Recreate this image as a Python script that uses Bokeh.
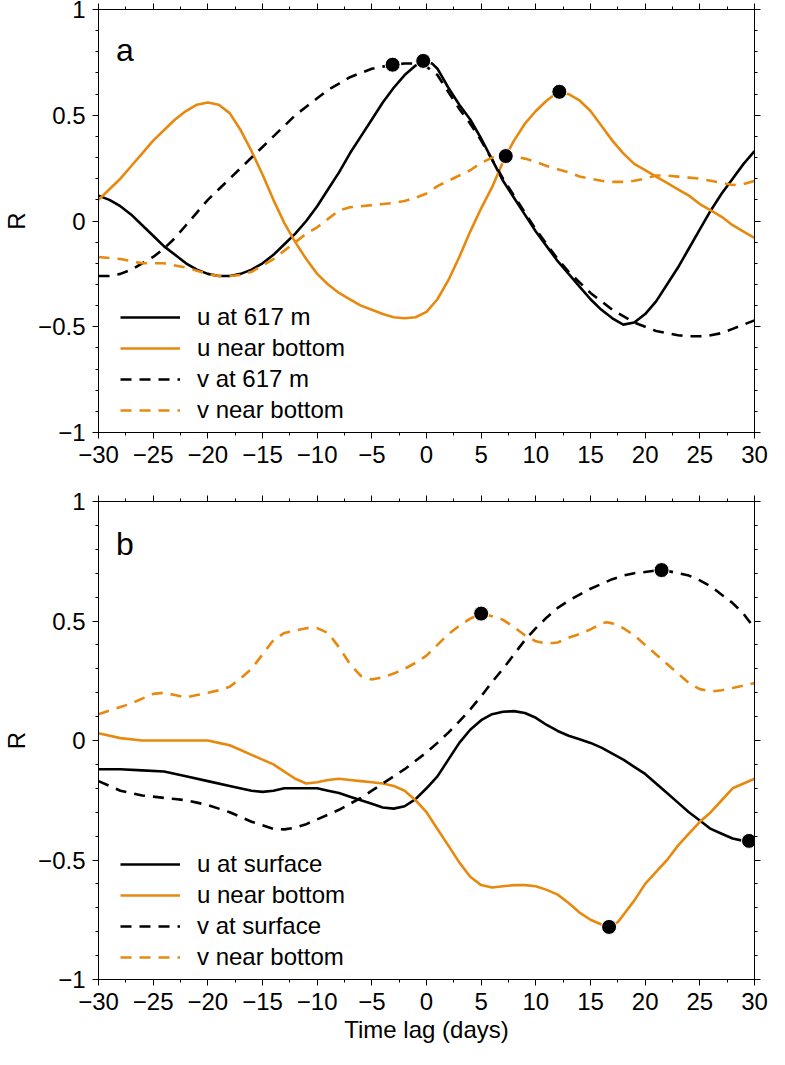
from bokeh.plotting import figure
from bokeh.models import (Range1d, LinearAxis, SingleIntervalTicker, CustomJSTickFormatter,
                          Legend, LegendItem, Label)
from bokeh.layouts import column
from bokeh.embed import file_html
from bokeh.resources import INLINE

FONT = "Liberation Sans"
ORANGE = "#E8890F"

# ---------------- Panel a data ----------------
a_u617_x = [-30, -29, -28, -27, -26, -25, -24, -23, -22, -21, -20, -19, -18, -17, -16, -15, -14, -13, -12, -11,
            -10, -9, -8, -7, -6, -5, -4, -3, -2, -1, -0.3, 0.5, 1, 2, 3, 4, 5, 6, 7, 8, 9, 10,
            11, 12, 13, 14, 15, 16, 17, 18, 19, 20, 21, 22, 23, 24, 25, 26, 27, 28, 29, 30]
a_u617_y = [0.12, 0.10, 0.07, 0.03, -0.02, -0.07, -0.12, -0.16, -0.2, -0.23, -0.25, -0.26, -0.26, -0.25, -0.23, -0.2, -0.16, -0.11, -0.06, 0.0,
            0.07, 0.15, 0.23, 0.32, 0.40, 0.48, 0.56, 0.63, 0.69, 0.735, 0.755, 0.745, 0.72, 0.63, 0.55, 0.48, 0.39, 0.29, 0.19, 0.11, 0.03, -0.05,
            -0.12, -0.19, -0.25, -0.31, -0.37, -0.42, -0.46, -0.49, -0.48, -0.44, -0.38, -0.3, -0.22, -0.13, -0.04, 0.05, 0.13, 0.2, 0.27, 0.33]

a_ubot_x = [-30, -29, -28, -27, -26, -25, -24, -23, -22, -21, -20, -19, -18, -17, -16, -15, -14, -13, -12, -11,
            -10, -9, -8, -7, -6, -5, -4, -3, -2, -1, 0, 1, 2, 3, 4, 5, 6, 7, 7.25, 8, 9, 10,
            11, 12, 13, 14, 15, 16, 17, 18, 19, 20, 21, 22, 23, 24, 25, 26, 27, 28, 29, 30]
a_ubot_y = [0.1, 0.15, 0.2, 0.26, 0.32, 0.38, 0.43, 0.48, 0.52, 0.55, 0.56, 0.55, 0.51, 0.43, 0.33, 0.22, 0.1, -0.01, -0.1, -0.18,
            -0.25, -0.3, -0.34, -0.37, -0.4, -0.42, -0.44, -0.455, -0.46, -0.455, -0.43, -0.37, -0.28, -0.17, -0.05, 0.06, 0.16, 0.28, 0.307, 0.38, 0.46, 0.52,
            0.57, 0.608, 0.6, 0.57, 0.52, 0.45, 0.38, 0.32, 0.27, 0.24, 0.21, 0.18, 0.15, 0.12, 0.08, 0.05, 0.02, -0.02, -0.05, -0.08]

a_v617_x = [-30, -29, -28, -27, -26, -25, -24, -23, -22, -21, -20, -19, -18, -17, -16, -15, -14, -13, -12, -11,
            -10, -9, -8, -7, -6, -5, -4, -3, -2, -1, 0, 1, 2, 3, 4, 5, 6, 7, 8, 9, 10,
            11, 12, 13, 14, 15, 16, 17, 18, 19, 20, 21, 22, 23, 24, 25, 26, 27, 28, 29, 30]
a_v617_y = [-0.26, -0.26, -0.25, -0.23, -0.2, -0.17, -0.13, -0.08, -0.02, 0.04, 0.1, 0.15, 0.2, 0.25, 0.3, 0.35, 0.4, 0.45, 0.5, 0.54,
            0.58, 0.62, 0.65, 0.68, 0.7, 0.72, 0.73, 0.739, 0.745, 0.745, 0.73, 0.69, 0.61, 0.53, 0.46, 0.38, 0.29, 0.2, 0.12, 0.04, -0.04,
            -0.11, -0.18, -0.24, -0.29, -0.34, -0.38, -0.42, -0.45, -0.48, -0.5, -0.52, -0.53, -0.54, -0.545, -0.545, -0.54, -0.53, -0.51, -0.49, -0.47]

a_vbot_x = [-30, -29, -28, -27, -26, -25, -24, -23, -22, -21, -20, -19, -18, -17, -16, -15, -14, -13, -12, -11,
            -10, -9, -8, -7, -6, -5, -4, -3, -2, -1, 0, 1, 2, 3, 4, 5, 6, 7, 8, 9, 10,
            11, 12, 13, 14, 15, 16, 17, 18, 19, 20, 21, 22, 23, 24, 25, 26, 27, 28, 29, 30]
a_vbot_y = [-0.17, -0.175, -0.18, -0.19, -0.2, -0.2, -0.2, -0.21, -0.22, -0.235, -0.25, -0.26, -0.26, -0.255, -0.24, -0.21, -0.18, -0.14, -0.1, -0.06,
            -0.03, 0.01, 0.05, 0.065, 0.07, 0.075, 0.08, 0.085, 0.095, 0.11, 0.13, 0.165, 0.19, 0.215, 0.24, 0.275, 0.3, 0.307, 0.305, 0.295, 0.28,
            0.26, 0.245, 0.23, 0.21, 0.2, 0.19, 0.185, 0.185, 0.19, 0.2, 0.215, 0.215, 0.21, 0.205, 0.2, 0.19, 0.18, 0.17, 0.175, 0.19]

a_dot_x = [-3.1, -0.3, 7.25, 12.15]
a_dot_y = [0.739, 0.757, 0.307, 0.611]

# ---------------- Panel b data ----------------
b_usurf_x = [-30, -28, -26, -24, -22, -20, -18, -16, -15, -14, -13, -12, -11, -10, -9, -8, -7, -6, -5, -4, -3, -2, -1,
             0, 1, 2, 3, 4, 5, 6, 7, 8, 9, 10, 11, 12, 13, 14, 15, 16, 17, 18, 19, 20, 21, 22, 23, 24, 25, 26, 27, 28, 29, 30]
b_usurf_y = [-0.12, -0.12, -0.125, -0.13, -0.15, -0.17, -0.19, -0.21, -0.215, -0.21, -0.2, -0.2, -0.2, -0.2, -0.21, -0.22, -0.235, -0.25, -0.265, -0.28, -0.285, -0.275, -0.245,
             -0.2, -0.15, -0.08, -0.01, 0.045, 0.085, 0.11, 0.12, 0.123, 0.115, 0.095, 0.065, 0.04, 0.02, 0.005, -0.01, -0.03, -0.055, -0.08, -0.11, -0.14, -0.18, -0.22, -0.26, -0.3, -0.335, -0.37, -0.39, -0.41, -0.42, -0.42]

b_ubot_x = [-30, -28, -26, -24, -22, -20, -19, -18, -17, -16, -15, -14, -13, -12, -11, -10, -9, -8, -7, -6, -5, -4, -3, -2, -1,
            0, 1, 2, 3, 4, 5, 6, 7, 8, 9, 10, 11, 12, 13, 14, 15, 16, 16.7, 17.5, 18, 19, 20, 21, 22, 23, 24, 25, 26, 27, 28, 29, 30]
b_ubot_y = [0.03, 0.01, 0.0, 0.0, 0.0, 0.0, -0.01, -0.02, -0.04, -0.06, -0.08, -0.1, -0.13, -0.16, -0.18, -0.175, -0.165, -0.16, -0.165, -0.17, -0.175, -0.18, -0.19, -0.21, -0.25,
            -0.3, -0.37, -0.44, -0.51, -0.57, -0.605, -0.615, -0.61, -0.605, -0.605, -0.61, -0.625, -0.645, -0.68, -0.72, -0.75, -0.77, -0.78, -0.76, -0.73, -0.67, -0.6, -0.55, -0.5, -0.44, -0.39, -0.34, -0.3, -0.25, -0.2, -0.18, -0.16]

b_vsurf_x = [-30, -29, -28, -27, -26, -25, -24, -23, -22, -21, -20, -19, -18, -17, -16, -15, -14, -13, -12, -11,
             -10, -9, -8, -7, -6, -5, -4, -3, -2, -1, 0, 1, 2, 3, 4, 5, 6, 7, 8, 9, 10,
             11, 12, 13, 14, 15, 16, 17, 18, 19, 20, 21, 21.5, 22, 23, 24, 25, 26, 27, 28, 29, 30]
b_vsurf_y = [-0.17, -0.19, -0.21, -0.22, -0.23, -0.235, -0.24, -0.245, -0.25, -0.26, -0.27, -0.285, -0.3, -0.32, -0.34, -0.355, -0.37, -0.372, -0.365, -0.35,
             -0.33, -0.31, -0.29, -0.265, -0.24, -0.21, -0.18, -0.15, -0.12, -0.085, -0.05, -0.01, 0.033, 0.08, 0.13, 0.185, 0.245, 0.3, 0.36, 0.42, 0.47,
             0.515, 0.555, 0.585, 0.61, 0.635, 0.655, 0.675, 0.69, 0.7, 0.705, 0.711, 0.713, 0.71, 0.7, 0.69, 0.67, 0.645, 0.61, 0.575, 0.53, 0.47]

b_vbot_x = [-30, -29, -28, -27, -26, -25, -24, -23, -22, -21, -20, -19, -18, -17, -16, -15, -14, -13, -12, -11,
            -10, -9, -8, -7, -6, -5, -4, -3, -2, -1, 0, 1, 2, 3, 4, 5, 6, 7, 8, 9, 10,
            11, 12, 13, 14, 15, 16, 16.5, 17, 18, 19, 20, 21, 22, 23, 24, 25, 26, 27, 28, 29, 30]
b_vbot_y = [0.11, 0.125, 0.14, 0.155, 0.175, 0.195, 0.2, 0.19, 0.18, 0.19, 0.2, 0.21, 0.225, 0.26, 0.3, 0.36, 0.42, 0.45, 0.46, 0.47,
            0.47, 0.45, 0.39, 0.32, 0.27, 0.255, 0.265, 0.28, 0.3, 0.325, 0.355, 0.4, 0.445, 0.48, 0.51, 0.531, 0.52, 0.505, 0.475, 0.44, 0.415,
            0.405, 0.41, 0.43, 0.445, 0.465, 0.49, 0.495, 0.49, 0.47, 0.44, 0.4, 0.36, 0.32, 0.28, 0.24, 0.215, 0.205, 0.21, 0.22, 0.23, 0.24]

b_dot_x = [5.0, 21.5, 16.7, 29.5]
b_dot_y = [0.531, 0.713, -0.78, -0.42]

x_label = "Time lag (days)"
y_label = "R"

MINUS_FMT = "return String(tick).replace('-', '\u2212');"


def make_panel(height, border_top, border_bottom, series, dots, letter, letter_y, show_xlabel):
    p = figure(width=769, height=height, output_backend="svg", toolbar_location=None,
               x_range=Range1d(-30, 30), y_range=Range1d(-1, 1),
               min_border_left=92, min_border_right=15,
               min_border_top=border_top, min_border_bottom=border_bottom)
    p.grid.visible = False
    p.outline_line_color = "black"
    p.outline_line_width = 1
    p.background_fill_color = "white"
    p.border_fill_color = "white"

    def style(ax, show_labels):
        ax.major_tick_in = 0
        ax.minor_tick_in = 0
        ax.major_tick_out = 6
        ax.minor_tick_out = 3
        ax.axis_line_color = "black"
        ax.major_tick_line_color = "black"
        ax.minor_tick_line_color = "black"
        ax.formatter = CustomJSTickFormatter(code=MINUS_FMT)
        if show_labels:
            ax.major_label_text_font = FONT
            ax.major_label_text_font_size = "24px"
            ax.major_label_text_color = "black"
            ax.major_label_standoff = 7
        else:
            ax.major_label_text_font_size = "0px"
            ax.major_label_standoff = 0

    p.xaxis.ticker = SingleIntervalTicker(interval=5, num_minor_ticks=2)
    p.yaxis.ticker = SingleIntervalTicker(interval=0.5, num_minor_ticks=5)
    style(p.xaxis[0], True)
    style(p.yaxis[0], True)
    p.yaxis.axis_label = y_label
    p.yaxis.axis_label_text_font = FONT
    p.yaxis.axis_label_text_font_size = "24px"
    p.yaxis.axis_label_text_font_style = "normal"
    p.yaxis.axis_label_text_color = "black"
    p.yaxis.axis_label_standoff = 5
    if show_xlabel:
        p.xaxis.axis_label = x_label
        p.xaxis.axis_label_text_font = FONT
        p.xaxis.axis_label_text_font_size = "24px"
        p.xaxis.axis_label_text_font_style = "normal"
        p.xaxis.axis_label_text_color = "black"
        p.xaxis.axis_label_standoff = 3

    top = LinearAxis(ticker=SingleIntervalTicker(interval=5, num_minor_ticks=2))
    style(top, False)
    p.add_layout(top, "above")
    right = LinearAxis(ticker=SingleIntervalTicker(interval=0.5, num_minor_ticks=5))
    style(right, False)
    p.add_layout(right, "right")

    items = []
    for (xs, ys, color, dash, name) in series:
        r = p.line(xs, ys, line_color=color, line_width=2.6, line_dash=dash, line_join="round")
        items.append(LegendItem(label=name, renderers=[r]))

    p.scatter(dots[0], dots[1], size=15, fill_color="black", line_color="white", line_width=1)

    legend = Legend(items=items, location=(22, 8), glyph_width=60, glyph_height=24,
                    label_standoff=17, spacing=3, padding=0, margin=0,
                    border_line_color=None, background_fill_alpha=0,
                    label_text_font=FONT, label_text_font_size="24px",
                    label_text_color="black")
    p.add_layout(legend)

    p.add_layout(Label(x=-28.4, y=letter_y, text=letter, text_font=FONT, text_color="black",
                       text_font_size="32px", text_baseline="alphabetic"))
    return p


pa = make_panel(480, 9, 48,
                [(a_u617_x, a_u617_y, "black", "solid", "u at 617 m"),
                 (a_ubot_x, a_ubot_y, ORANGE, "solid", "u near bottom"),
                 (a_v617_x, a_v617_y, "black", "11 8", "v at 617 m"),
                 (a_vbot_x, a_vbot_y, ORANGE, "11 8", "v near bottom")],
                (a_dot_x, a_dot_y), "a", 0.81, False)

pb = make_panel(569, 21, 70,
                [(b_usurf_x, b_usurf_y, "black", "solid", "u at surface"),
                 (b_ubot_x, b_ubot_y, ORANGE, "solid", "u near bottom"),
                 (b_vsurf_x, b_vsurf_y, "black", "11 8", "v at surface"),
                 (b_vbot_x, b_vbot_y, ORANGE, "11 8", "v near bottom")],
                (b_dot_x, b_dot_y), "b", 0.824, True)

layout = column(pa, pb, spacing=0)
open("out.html", "w").write(file_html(layout, INLINE))
